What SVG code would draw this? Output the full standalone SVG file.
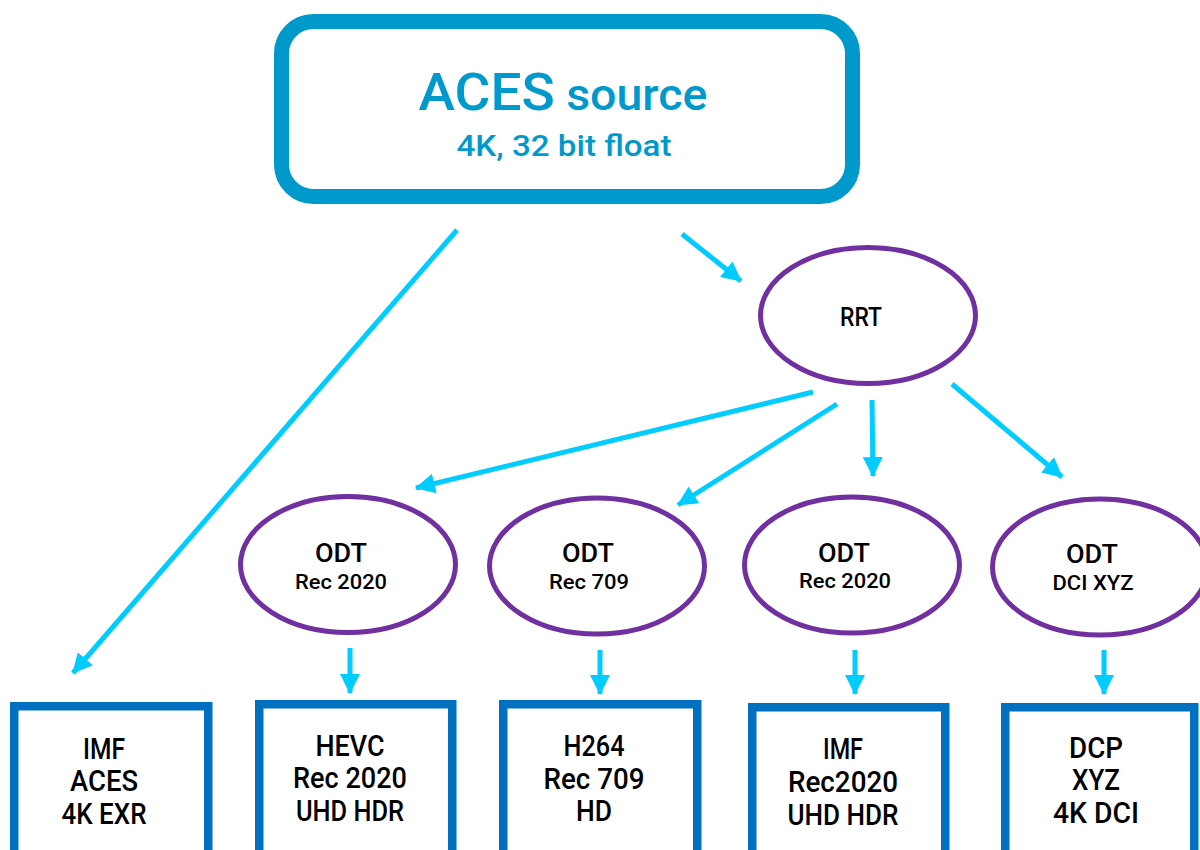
<svg xmlns="http://www.w3.org/2000/svg" width="1200" height="850" viewBox="0 0 1200 850">
  <defs>
    <marker id="arr" markerUnits="userSpaceOnUse" markerWidth="20" markerHeight="20" viewBox="0 0 18 18" refX="17" refY="9" orient="auto">
      <path d="M0,0 L18,9 L0,18 Z" fill="#00CCFF"/>
    </marker>
    <style>
      .conn { stroke: #00CCFF; stroke-width: 5; fill: none; marker-end: url(#arr); }
      .ell { fill: #FFFFFF; stroke: #7030A0; stroke-width: 5; }
      .box { fill: #FFFFFF; stroke: #0070C0; stroke-width: 8.5; }
      .btxt { font-family: Roboto, "Liberation Sans", Arial, sans-serif; font-size: 30px; font-weight: 500; fill: #000000; text-anchor: middle; }
      .etxt { font-family: Roboto, "Liberation Sans", Arial, sans-serif; font-weight: 500; fill: #000000; text-anchor: middle; }
      .big { font-size: 25px; }
      .small { font-size: 20px; }
      .src { font-family: Roboto, "Liberation Sans", Arial, sans-serif; font-weight: 500; fill: #0099CC; text-anchor: middle; }
    </style>
  </defs>
  <rect width="1200" height="850" fill="#FFFFFF"/>

  <g id="connectors">
    <line class="conn" x1="457" y1="230" x2="73" y2="673"/>
    <line class="conn" x1="682" y1="234" x2="741" y2="281"/>
    <line class="conn" x1="813" y1="392" x2="416" y2="488"/>
    <line class="conn" x1="837" y1="404" x2="678" y2="505"/>
    <line class="conn" x1="872" y1="400" x2="873" y2="476"/>
    <line class="conn" x1="952" y1="384" x2="1062" y2="477"/>
    <line class="conn" x1="350" y1="648" x2="350" y2="693"/>
    <line class="conn" x1="600" y1="650" x2="600" y2="694"/>
    <line class="conn" x1="855" y1="650" x2="855" y2="694"/>
    <line class="conn" x1="1104" y1="650" x2="1104" y2="694"/>
  </g>

  <g id="aces-source">
    <rect x="281.5" y="21.5" width="571" height="175" rx="32" ry="32" fill="#FFFFFF" stroke="#0099CC" stroke-width="15"/>
    <text class="src" x="563" y="110" textLength="289" lengthAdjust="spacingAndGlyphs"><tspan font-size="52">ACES</tspan><tspan font-size="44"> source</tspan></text>
    <text class="src" x="564" y="156" font-size="29" textLength="215" lengthAdjust="spacingAndGlyphs">4K, 32 bit float</text>
  </g>

  <g id="rrt">
    <ellipse class="ell" cx="868" cy="315.5" rx="107.5" ry="68"/>
    <text class="etxt" x="861" y="326" font-size="26" textLength="42" lengthAdjust="spacingAndGlyphs">RRT</text>
  </g>

  <g id="odt-rec2020-a">
    <ellipse class="ell" cx="348" cy="564.5" rx="107.5" ry="68"/>
    <text class="etxt big" x="341" y="562" textLength="52" lengthAdjust="spacingAndGlyphs">ODT</text>
    <text class="etxt small" x="341" y="589" textLength="92" lengthAdjust="spacingAndGlyphs">Rec 2020</text>
  </g>
  <g id="odt-rec709">
    <ellipse class="ell" cx="597" cy="566" rx="107.5" ry="68"/>
    <text class="etxt big" x="588" y="562" textLength="52" lengthAdjust="spacingAndGlyphs">ODT</text>
    <text class="etxt small" x="589" y="589" textLength="80" lengthAdjust="spacingAndGlyphs">Rec 709</text>
  </g>
  <g id="odt-rec2020-b">
    <ellipse class="ell" cx="852" cy="565" rx="107.5" ry="68"/>
    <text class="etxt big" x="844" y="562" textLength="52" lengthAdjust="spacingAndGlyphs">ODT</text>
    <text class="etxt small" x="845" y="588" textLength="92" lengthAdjust="spacingAndGlyphs">Rec 2020</text>
  </g>
  <g id="odt-dcixyz">
    <ellipse class="ell" cx="1100" cy="567" rx="107.5" ry="68"/>
    <text class="etxt big" x="1092" y="563" textLength="52" lengthAdjust="spacingAndGlyphs">ODT</text>
    <text class="etxt small" x="1093" y="590" textLength="81" lengthAdjust="spacingAndGlyphs">DCI XYZ</text>
  </g>

  <g id="out-imf-aces">
    <rect class="box" x="14.25" y="706.25" width="194" height="160"/>
    <text class="btxt" x="104" y="759" textLength="42" lengthAdjust="spacingAndGlyphs">IMF</text>
    <text class="btxt" x="104" y="791" textLength="68" lengthAdjust="spacingAndGlyphs">ACES</text>
    <text class="btxt" x="104" y="824" textLength="85" lengthAdjust="spacingAndGlyphs">4K EXR</text>
  </g>
  <g id="out-hevc">
    <rect class="box" x="259.25" y="704.25" width="193" height="160"/>
    <text class="btxt" x="350" y="756" textLength="69" lengthAdjust="spacingAndGlyphs">HEVC</text>
    <text class="btxt" x="350" y="788" textLength="114" lengthAdjust="spacingAndGlyphs">Rec 2020</text>
    <text class="btxt" x="350" y="821" textLength="108" lengthAdjust="spacingAndGlyphs">UHD HDR</text>
  </g>
  <g id="out-h264">
    <rect class="box" x="503.25" y="704.25" width="194" height="160"/>
    <text class="btxt" x="594" y="756" textLength="61" lengthAdjust="spacingAndGlyphs">H264</text>
    <text class="btxt" x="594" y="789" textLength="101" lengthAdjust="spacingAndGlyphs">Rec 709</text>
    <text class="btxt" x="594" y="821" textLength="36" lengthAdjust="spacingAndGlyphs">HD</text>
  </g>
  <g id="out-imf-rec2020">
    <rect class="box" x="752.25" y="707.25" width="193" height="160"/>
    <text class="btxt" x="843" y="759" textLength="40" lengthAdjust="spacingAndGlyphs">IMF</text>
    <text class="btxt" x="843" y="792" textLength="110" lengthAdjust="spacingAndGlyphs">Rec2020</text>
    <text class="btxt" x="843" y="825" textLength="111" lengthAdjust="spacingAndGlyphs">UHD HDR</text>
  </g>
  <g id="out-dcp">
    <rect class="box" x="1005.25" y="707.25" width="189" height="160"/>
    <text class="btxt" x="1096" y="758" textLength="54" lengthAdjust="spacingAndGlyphs">DCP</text>
    <text class="btxt" x="1096" y="790" textLength="48" lengthAdjust="spacingAndGlyphs">XYZ</text>
    <text class="btxt" x="1096" y="823" textLength="86" lengthAdjust="spacingAndGlyphs">4K DCI</text>
  </g>
</svg>
